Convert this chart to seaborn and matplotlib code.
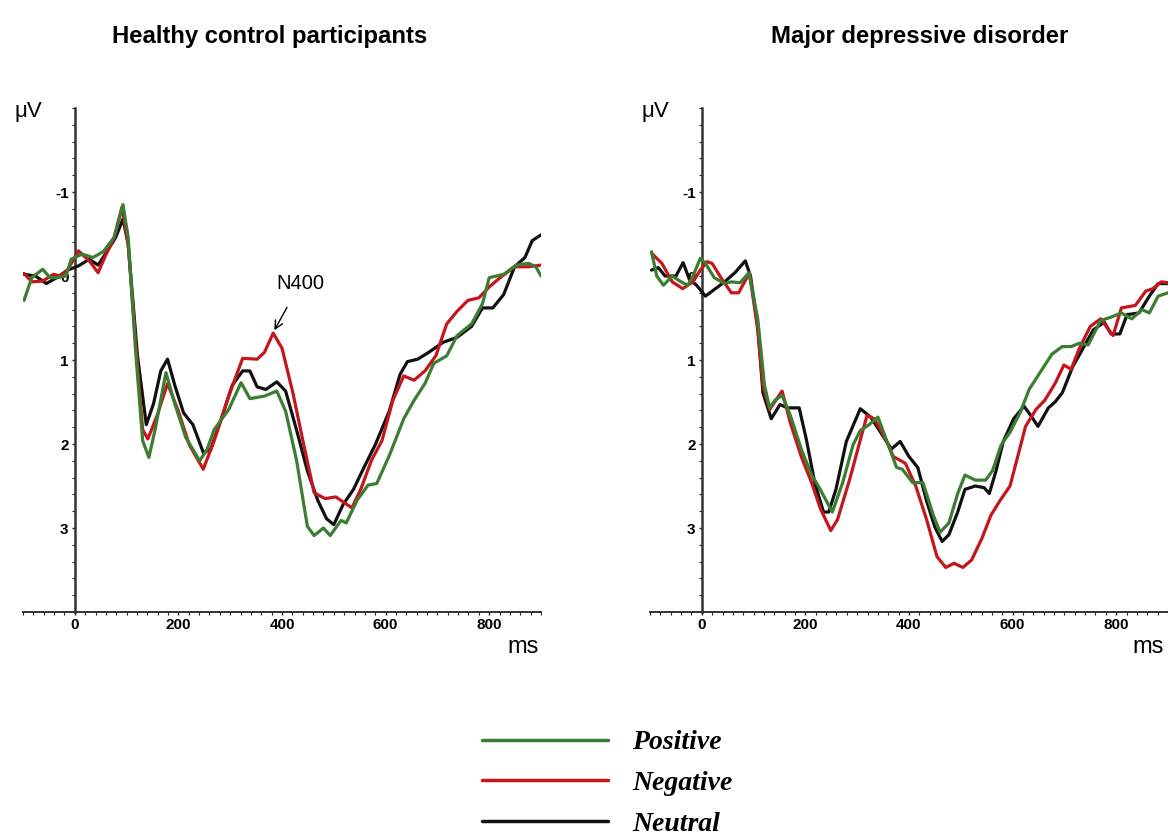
import numpy as np
import pandas as pd
import seaborn as sns
import matplotlib.pyplot as plt
from matplotlib.ticker import MultipleLocator, FixedLocator

# ---- data (ms, microvolts; negative is up) ----
hc_pos_ms = [-98, -83, -62, -48, -35, -17, -7, 14, 35, 55, 76, 93, 103, 117, 131, 143, 155, 176, 193, 214,
             241, 255, 269, 297, 321, 338, 366, 390, 407, 428, 449, 462, 480, 493, 514, 524, 545, 566, 583,
             607, 635, 655, 676, 693, 718, 738, 766, 787, 800, 828, 852, 876, 890, 900]
hc_pos_uv = [0.29, 0.02, -0.08, 0.02, 0.02, 0.0, -0.2, -0.26, -0.22, -0.29, -0.46, -0.85, -0.46, 0.86, 1.96,
             2.16, 1.83, 1.15, 1.52, 1.92, 2.2, 2.07, 1.83, 1.59, 1.27, 1.46, 1.43, 1.37, 1.61, 2.19, 2.98,
             3.09, 3.0, 3.09, 2.91, 2.94, 2.67, 2.49, 2.47, 2.14, 1.7, 1.48, 1.28, 1.04, 0.95, 0.71, 0.57,
             0.33, 0.02, -0.02, -0.13, -0.15, -0.11, 0.0]

hc_neg_ms = [-98, -83, -62, -41, -28, -14, 7, 28, 45, 59, 76, 91, 103, 121, 131, 141, 159, 179, 200, 221,
             248, 269, 297, 324, 352, 366, 383, 400, 421, 442, 462, 483, 504, 518, 535, 552, 573, 593, 614,
             635, 655, 676, 697, 718, 738, 759, 780, 800, 821, 849, 876, 900]
hc_neg_uv = [-0.03, 0.07, 0.06, -0.02, 0.0, -0.07, -0.3, -0.18, -0.04, -0.24, -0.46, -0.82, -0.38, 1.08,
             1.83, 1.94, 1.66, 1.28, 1.61, 2.01, 2.3, 1.96, 1.43, 0.98, 0.99, 0.91, 0.68, 0.86, 1.39, 2.01,
             2.58, 2.65, 2.63, 2.69, 2.76, 2.54, 2.19, 1.96, 1.48, 1.19, 1.24, 1.13, 0.95, 0.57, 0.42, 0.29,
             0.26, 0.13, 0.02, -0.11, -0.11, -0.13]

hc_neu_ms = [-98, -76, -55, -35, -14, 7, 28, 45, 62, 79, 93, 103, 121, 138, 152, 166, 179, 193, 210, 228,
             248, 262, 283, 304, 324, 338, 352, 369, 390, 407, 428, 449, 469, 486, 500, 518, 538, 559, 580,
             607, 628, 642, 662, 683, 711, 738, 766, 787, 807, 828, 849, 869, 883, 900]
hc_neu_uv = [-0.02, 0.0, 0.09, 0.02, -0.07, -0.12, -0.2, -0.13, -0.29, -0.46, -0.68, -0.38, 0.95, 1.77,
             1.52, 1.13, 0.99, 1.3, 1.63, 1.77, 2.1, 2.07, 1.7, 1.3, 1.13, 1.13, 1.32, 1.35, 1.26, 1.37,
             1.83, 2.32, 2.67, 2.89, 2.96, 2.72, 2.54, 2.27, 2.01, 1.61, 1.17, 1.02, 0.99, 0.91, 0.79, 0.73,
             0.6, 0.38, 0.38, 0.22, -0.11, -0.22, -0.42, -0.49]

md_pos_ms = [-97, -87, -74, -57, -40, -27, -17, -3, 7, 24, 44, 57, 74, 91, 108, 121, 131, 141, 155, 171,
             192, 212, 225, 252, 272, 292, 306, 323, 340, 360, 376, 387, 407, 427, 447, 460, 477, 494, 508,
             528, 548, 561, 578, 595, 615, 632, 655, 676, 696, 713, 729, 746, 770, 790, 810, 830, 850, 864,
             881, 900]
md_pos_uv = [-0.29, 0.0, 0.11, 0.0, 0.07, 0.11, 0.0, -0.21, -0.15, 0.02, 0.09, 0.07, 0.08, -0.04, 0.51,
             1.3, 1.57, 1.48, 1.42, 1.66, 2.06, 2.37, 2.5, 2.81, 2.46, 2.01, 1.84, 1.77, 1.68, 2.01, 2.28,
             2.3, 2.46, 2.46, 2.85, 3.05, 2.94, 2.59, 2.37, 2.43, 2.43, 2.32, 2.01, 1.86, 1.62, 1.35, 1.13,
             0.93, 0.84, 0.84, 0.8, 0.82, 0.53, 0.49, 0.44, 0.51, 0.4, 0.44, 0.24, 0.2]

md_neg_ms = [-97, -77, -57, -37, -17, -3, 10, 20, 37, 57, 71, 87, 92, 108, 118, 131, 145, 155, 171, 192,
             212, 229, 249, 262, 286, 306, 319, 333, 353, 370, 393, 413, 434, 454, 471, 487, 504, 521, 541,
             558, 575, 595, 612, 625, 645, 662, 682, 699, 713, 729, 750, 770, 794, 810, 837, 857, 871, 887,
             900]
md_neg_uv = [-0.27, -0.15, 0.07, 0.15, 0.07, -0.07, -0.17, -0.15, 0.02, 0.2, 0.2, 0.02, -0.04, 0.64, 1.3,
             1.59, 1.46, 1.37, 1.75, 2.15, 2.46, 2.77, 3.03, 2.9, 2.41, 1.95, 1.66, 1.7, 1.92, 2.15, 2.23,
             2.5, 2.9, 3.34, 3.47, 3.42, 3.47, 3.38, 3.12, 2.85, 2.68, 2.5, 2.1, 1.79, 1.59, 1.48, 1.28,
             1.06, 1.11, 0.86, 0.6, 0.51, 0.71, 0.38, 0.35, 0.18, 0.15, 0.07, 0.08]

md_neu_ms = [-97, -84, -71, -50, -36, -24, -10, 7, 20, 44, 64, 84, 94, 108, 118, 134, 151, 165, 188, 202,
             218, 235, 245, 259, 279, 306, 326, 343, 366, 383, 400, 417, 434, 450, 464, 477, 494, 508, 528,
             545, 555, 568, 582, 602, 622, 635, 649, 669, 682, 696, 716, 736, 756, 777, 790, 807, 821, 844,
             864, 881, 900]
md_neu_uv = [-0.07, -0.1, 0.0, 0.0, -0.16, 0.04, 0.11, 0.24, 0.18, 0.07, -0.04, -0.18, 0.0, 0.6, 1.39,
             1.7, 1.53, 1.57, 1.57, 1.95, 2.46, 2.81, 2.81, 2.54, 1.97, 1.58, 1.68, 1.84, 2.06, 1.97, 2.15,
             2.28, 2.68, 2.99, 3.16, 3.08, 2.81, 2.54, 2.5, 2.52, 2.59, 2.32, 1.97, 1.7, 1.55, 1.66, 1.79,
             1.57, 1.5, 1.39, 1.08, 0.86, 0.64, 0.55, 0.69, 0.69, 0.46, 0.44, 0.24, 0.09, 0.09]

conditions = ["Positive", "Negative", "Neutral"]
colors = {"Positive": "#3b7d32", "Negative": "#c4161c", "Neutral": "#111111"}
titles = ["Healthy control participants", "Major depressive disorder"]
x_ticks = [0, 200, 400, 600, 800]
y_ticks = [-1, 0, 1, 2, 3]

panels = [
    {"Positive": (hc_pos_ms, hc_pos_uv), "Negative": (hc_neg_ms, hc_neg_uv), "Neutral": (hc_neu_ms, hc_neu_uv)},
    {"Positive": (md_pos_ms, md_pos_uv), "Negative": (md_neg_ms, md_neg_uv), "Neutral": (md_neu_ms, md_neu_uv)},
]

sns.set_style("ticks")
plt.rcParams['font.family'] = ['Liberation Sans', 'DejaVu Sans']
plt.rcParams['text.color'] = 'black'
plt.rcParams['xtick.color'] = '#222222'
plt.rcParams['ytick.color'] = '#222222'

fig = plt.figure(figsize=(11.68, 8.32), dpi=100)
ax_left = fig.add_axes([23 / 1168, 1 - 612 / 832, 518 / 1168, 504 / 832])
ax_right = fig.add_axes([650 / 1168, 1 - 612 / 832, 518 / 1168, 504 / 832])
axes = [ax_left, ax_right]
ms_pos = [0.965, 0.961]

for ax, panel, msx in zip(axes, panels, ms_pos):
    for cond in ["Neutral", "Negative", "Positive"]:
        ms, uv = panel[cond]
        df = pd.DataFrame({"ms": ms, "uv": uv})
        sns.lineplot(data=df, x="ms", y="uv", ax=ax, color=colors[cond], lw=2.3,
                     sort=False, estimator=None, legend=False, zorder=3,
                     solid_joinstyle="round", solid_capstyle="round")

    ax.set_xlim(-100, 900)
    ax.set_ylim(4, -2)
    ax.set_xlabel("")
    ax.set_ylabel("")
    for side in ["top", "right"]:
        ax.spines[side].set_visible(False)
    ax.spines["left"].set_position(("data", 0))
    ax.spines["left"].set_linewidth(1.8)
    ax.spines["bottom"].set_linewidth(1.4)
    ax.spines["left"].set_color("#333333")
    ax.spines["bottom"].set_color("#333333")

    ax.xaxis.set_major_locator(FixedLocator(x_ticks))
    ax.xaxis.set_minor_locator(MultipleLocator(20))
    ax.yaxis.set_major_locator(FixedLocator(y_ticks))
    ax.yaxis.set_minor_locator(MultipleLocator(0.2))
    ax.tick_params(axis="both", which="major", direction="out", length=2.5, width=1,
                   labelsize=11, pad=2, labelcolor="black")
    ax.tick_params(axis="both", which="minor", direction="out", length=2, width=0.8)
    ax.set_xticklabels([str(t) for t in x_ticks], fontweight="bold")
    ax.set_yticklabels([str(t) for t in y_ticks], fontweight="bold")
    for lab in ax.get_yticklabels():
        lab.set_zorder(1)

    ax.text(0.01, 0.993, "\u03bcV", transform=ax.transAxes, fontsize=16,
            ha="center", va="center")
    ax.text(msx, -0.069, "ms", transform=ax.transAxes, fontsize=17, ha="center", va="center")

ax_left.annotate("N400", xy=(384, 0.66), xytext=(435, 0.09), fontsize=14.5,
                 ha="center", va="center",
                 arrowprops=dict(arrowstyle="->", color="black", lw=1.0, shrinkA=9, shrinkB=1))

fig.text(270 / 1168, 1 - 36 / 832, titles[0], fontsize=17.2, fontweight="bold", ha="center", va="center")
fig.text(920 / 1168, 1 - 36 / 832, titles[1], fontsize=17.2, fontweight="bold", ha="center", va="center")

handles = [plt.Line2D([], [], color=colors[c], lw=2.5) for c in conditions]
fig.legend(handles, conditions, loc="upper left", bbox_to_anchor=(482 / 1168, 1 - 730 / 832),
           frameon=False, borderpad=0, borderaxespad=0, handlelength=4.55, handletextpad=0.85,
           labelspacing=0.55,
           prop={"family": "Liberation Serif", "weight": "bold", "style": "italic", "size": 20})

fig.savefig("out.png", dpi=100)
